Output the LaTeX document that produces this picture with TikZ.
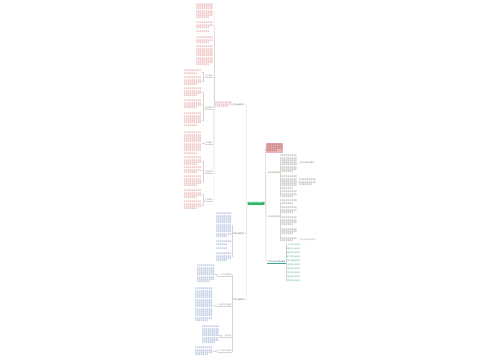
\documentclass[tikz,border=0pt]{standalone}
\usepackage{fontspec}
\newfontfamily\cjk{Noto Sans CJK SC}
\usetikzlibrary{calc}
\XeTeXlinebreaklocale "zh"
\XeTeXlinebreakskip=0pt plus 0.5pt
\ExplSyntaxOn
\cs_new:Npn \myrep #1#2 {\prg_replicate:nn{#1}{#2}}
\ExplSyntaxOff
\definecolor{cred}{RGB}{212,92,92}
\definecolor{cblue}{RGB}{80,114,178}
\definecolor{cgray}{RGB}{105,105,105}
\definecolor{clab}{RGB}{70,70,70}
\definecolor{clight}{RGB}{140,140,140}
\definecolor{cteal}{RGB}{60,165,145}
\definecolor{cdteal}{RGB}{30,110,100}
\definecolor{cgreen}{RGB}{46,184,100}
\definecolor{cpink}{RGB}{232,180,182}
\definecolor{cdred}{RGB}{160,50,50}
\definecolor{colive}{RGB}{130,110,40}
\definecolor{cgreentwo}{RGB}{90,120,40}
\definecolor{cline}{RGB}{212,212,212}
\newcommand\blk[6]{\pgfmathtruncatemacro\nch{#5*floor(#4/1.87)-2}\node[blk,text=#6,text width=#4pt] (#1) at (#2,#3) {\myrep{\nch}{字}};}
\newcommand\lconn[2]{\draw[conn] (#1.west) -- ($(#1.west)!0.5!(#1.west -| #2.east)$) |- (#2.east);}
\newcommand\rconn[2]{\draw[conn] (#1.east) -- ($(#1.east)!0.5!(#1.east -| #2.west)$) |- (#2.west);}
\newcommand\ul[2]{\draw[#2, line width=0.2pt] (#1.south west) -- (#1.south east);}
\begin{document}
\begin{tikzpicture}[x=1pt,y=-1pt,
  blk/.style={anchor=north west, inner sep=0pt, align=left, font=\cjk\fontsize{1.85}{2.25}\selectfont},
  lab/.style={inner sep=0.3pt, font=\cjk\fontsize{1.8}{2}\selectfont},
  conn/.style={draw=cline, line width=0.3pt}]
\fill[white] (0,0) rectangle (500,360);
\useasboundingbox (0,0) rectangle (500,360);

% central
\node[lab, fill=cgreen, text=white, inner xsep=1.3pt, inner ysep=0.7pt, rounded corners=0.4pt] (C) at (256,203.3) {年度工作计划范文};

% ---------- left branch 1 ----------
\node[lab, anchor=east, text=clab] (L1) at (246,105) {工作计划范文一};
\blk{M}{215}{101.5}{17}{3}{cred}
\blk{T1}{196}{3.5}{17}{7}{cred}
\blk{T2}{196}{22}{17}{3}{cred}
\blk{T3}{196}{31}{17}{1}{cred}
\blk{T4}{196}{37}{17}{3}{cred}
\blk{T5}{196}{46}{17}{9}{cred}
\node[lab, anchor=east, text=clight] (S1) at (213,76) {工作目标};
\node[lab, anchor=east, text=clight] (S2) at (213,108) {具体措施};
\node[lab, anchor=east, text=clight] (S3) at (213,143) {工作重点};
\node[lab, anchor=east, text=clight] (S4) at (213,172) {主要任务};
\node[lab, anchor=east, text=clight] (S5) at (213,200) {工作要求};
\foreach \n in {S1,S2,S3,S4,S5}{\ul{\n}{cline}}
\blk{A}{184}{70}{17.5}{2}{cred}
\blk{B}{184}{77}{17.5}{4}{cred}
\blk{Cc}{184}{88}{17.5}{4}{cred}
\blk{D}{184}{100}{17.5}{4}{cred}
\blk{E}{184}{113}{17.5}{6}{cred}
\blk{F}{184}{132}{17.5}{10}{cred}
\blk{G}{184}{157}{17.5}{4}{cred}
\blk{H}{184}{167}{17.5}{3}{cred}
\blk{I}{184}{176}{17.5}{5}{cred}
\blk{J}{184}{190}{17.5}{4}{cred}
\blk{K}{184}{201}{17.5}{4}{cred}
\lconn{C}{L1}
\lconn{L1}{M}
\foreach \n in {T1,T2,T3,T4,T5,S1,S2,S3,S4,S5}{\lconn{M}{\n}}
\lconn{S1}{A}\lconn{S1}{B}
\lconn{S2}{Cc}\lconn{S2}{D}\lconn{S2}{E}
\lconn{S3}{F}
\lconn{S4}{G}\lconn{S4}{H}\lconn{S4}{I}
\lconn{S5}{J}\lconn{S5}{K}

% ---------- left branch 2 ----------
\node[lab, anchor=east, text=clab] (L2) at (246,234) {工作计划范文二};
\blk{U1}{216}{213}{16}{11}{cblue}
\blk{U2}{216}{241}{16}{2}{cblue}
\blk{U3}{216}{247.5}{16}{1}{cblue}
\blk{U4}{216}{253}{16}{4}{cblue}
\lconn{C}{L2}
\foreach \n in {U1,U2,U3,U4}{\lconn{L2}{\n}}

% ---------- left branch 3 ----------
\node[lab, anchor=east, text=clab] (L3) at (246,300) {工作计划范文三};
\node[lab, anchor=east, text=clight] (V1) at (232,275) {一、工作指导思想};
\node[lab, anchor=east, text=clight] (V2) at (232,305) {二、主要工作及措施};
\node[lab, anchor=east, text=clight] (V3) at (232,336) {三、工作总结};
\node[lab, anchor=east, text=clight] (V4) at (232,351) {四、其他工作安排};
\foreach \n in {V1,V2,V3,V4}{\ul{\n}{cline}}
\blk{Y1}{197}{265}{18}{8}{cblue}
\blk{Y2}{195}{288}{18}{15}{cblue}
\blk{Y3}{202}{326}{17}{8}{cblue}
\blk{Y4}{195}{347}{18}{4}{cblue}
\lconn{C}{L3}
\foreach \n in {V1,V2,V3,V4}{\lconn{L3}{\n}}
\lconn{V1}{Y1}\lconn{V2}{Y2}\lconn{V3}{Y3}\lconn{V4}{Y4}

% ---------- right side ----------
\node[anchor=north west, fill=cpink, text=cdred, text width=16pt, inner sep=0.5pt, align=left, font=\cjk\fontsize{1.75}{2.25}\selectfont] (R0) at (266,143) {\myrep{33}{字}};
\node[lab, anchor=west, text=colive] (R1) at (267,173) {工作计划范文四};
\node[lab, anchor=west, text=cgreentwo] (R2) at (267,217) {工作计划范文五};
\node[lab, anchor=west, text=cdteal] (R3) at (267,262) {工作计划范文相关推荐};
\ul{R3}{cteal}
\rconn{C}{R0}\rconn{C}{R1}\rconn{C}{R2}\rconn{C}{R3}

\blk{W1}{280}{155}{17}{8}{cgray}
\blk{W2}{280}{176}{17}{6}{cgray}
\blk{W3}{280}{191}{17}{3}{cgray}
\node[lab, anchor=west, text=cgray] (W1a) at (299,163) {工作计划范文格式};
\blk{W2a}{299}{179}{17}{3}{cgray}
\foreach \n in {W1,W2,W3}{\rconn{R1}{\n}}
\rconn{W1}{W1a}\rconn{W2}{W2a}

\blk{X1}{280}{200}{17}{2}{cgray}
\blk{X2}{280}{207}{17}{3}{cgray}
\blk{X3}{280}{217}{17}{4}{cgray}
\blk{X4}{280}{228.5}{17}{3}{cgray}
\blk{X5}{280}{237.5}{17}{2}{cgray}
\node[lab, anchor=west, text=clight] (X5a) at (299,240) {工作计划怎么写范文};
\foreach \n in {X1,X2,X3,X4,X5}{\rconn{R2}{\n}}
\rconn{X5}{X5a}

\foreach \t [count=\i from 0] in {个人工作计划范文,年度工作计划范文,月度工作计划范文,部门工作计划范文,工作计划表格范文,学校工作计划范文,班级工作计划范文,公司工作计划范文,季度工作计划范文,下周工作计划范文}{
  \node[lab, anchor=west, text=cteal] (Z\i) at (285.5,{245+4*\i}) {\t};
  \rconn{R3}{Z\i}
}
\end{tikzpicture}
\end{document}
